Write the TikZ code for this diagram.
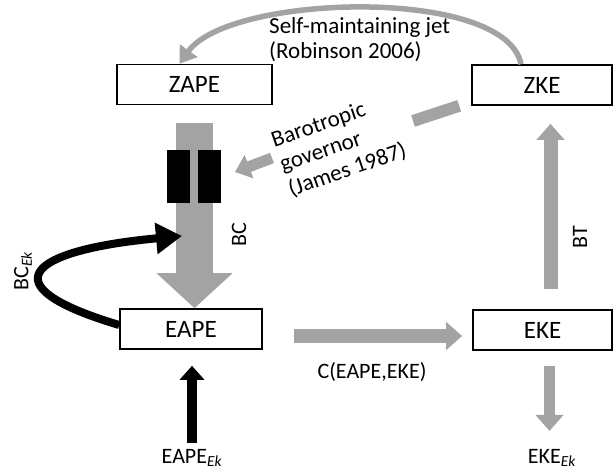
\documentclass[tikz,border=0pt]{standalone}
\usepackage{fontspec}
\setmainfont{Carlito}
\usetikzlibrary{arrows.meta}
\definecolor{arrowgray}{RGB}{163,163,163}
\tikzstyle{box} = [rectangle, draw, line width=1.6pt, minimum height=40pt, text centered, font=\fontsize{25}{28}\selectfont]
\tikzstyle{txt} = [font=\fontsize{22}{25}\selectfont, inner sep=0pt]
\tikzstyle{fatarrow} = [draw=arrowgray, line width=37pt, -{Triangle[width=74pt,length=35pt]}]
\tikzstyle{grayarrow} = [draw=arrowgray, line width=14pt, -{Triangle[width=27pt,length=16pt]}]
\tikzstyle{blackarrow} = [draw=black, line width=10pt, -{Triangle[width=24pt,length=14pt]}]
\tikzstyle{block} = [rectangle, fill=black, minimum width=23pt, minimum height=53pt, inner sep=0pt]

\begin{document}
\begin{tikzpicture}[x=1pt, y=-1pt]
                 \useasboundingbox (0,0) rectangle (614,474);
                 \node [box, minimum width=155pt] at (194.5,84.5) (zape) {ZAPE};
                 \node [box, minimum width=140pt] at (542,85) (zke) {ZKE};
                 \node [box, minimum width=142pt] at (191,329) (eape) {EAPE};
                 \node [box, minimum width=139pt] at (542.5,330) (eke) {EKE};
                 \node [txt] at (192,458) (eapeek) {EAPE\textsubscript{\textit{Ek}}};
                 \node [txt] at (552,458) (ekeek) {EKE\textsubscript{\textit{Ek}}};
                 \node [txt] at (372,372) (conv) {C(EAPE,EKE)};
                 \node [txt, rotate=90] at (239,235) (bc) {BC};
                 \node [txt, rotate=90] at (23,271) (bcek) {BC\textsubscript{\textit{Ek}}};
                 \node [txt, rotate=90] at (580,237) (bt) {BT};
                 \node [txt, font=\fontsize{23}{25}\selectfont, align=left, anchor=west] at (269,40) (jet) {Self-maintaining jet\\(Robinson 2006)};
                 \node [txt, font=\fontsize{23}{26}\selectfont, align=left, rotate=19] at (339,146) (gov) {Barotropic\\governor\\(James 1987)};
                 \coordinate (bctip) at (182,236);
                 \coordinate (govdash) at (413,121);
                 \coordinate (govtail) at (272,158);
                 \coordinate (govtip) at (235,172);
                 \draw [fatarrow, shorten <=18pt] (zape.south) -- (zape.south |- eape.north);
                 \node [block] at (178.5,176.5) (blockl) {};
                 \node [block] at (209.5,176.5) (blockr) {};
                 \draw [grayarrow, shorten <=31pt, shorten >=10pt] ([yshift=-7pt]eape.east) -- ([yshift=-7pt]eape.east -| eke.west);
                 \draw [grayarrow, shorten <=20pt, shorten >=18pt] ([xshift=8pt]eke.north) -- ([xshift=8pt]eke.north |- zke.south);
                 \draw [grayarrow, line width=11pt, shorten <=15pt, shorten >=18pt] ([xshift=7pt]eke.south) -- ([xshift=7pt]eke.south |- ekeek.north);
                 \draw [blackarrow, shorten <=6pt, shorten >=16pt] (eapeek.north) -- (eapeek.north |- eape.south);
                 \draw [draw=black, line width=8pt, -{Triangle[width=30pt,length=26pt]}] ([yshift=4pt]eape.west) .. controls (-15,285) and (30,250) .. (bctip);
                 \draw [draw=arrowgray, line width=5.5pt, -{Triangle[width=21pt,length=16pt]}] ([xshift=-21pt]zke.north) .. controls +(-15,-78) and +(50,-70) .. ([xshift=-15pt]zape.north);
                 \draw [draw=arrowgray, line width=12pt] ([xshift=-12pt]zke.south west) -- (govdash);
                 \draw [grayarrow, line width=11pt, -{Triangle[width=24pt,length=15pt]}] (govtail) -- (govtip);
                 \end{tikzpicture}
\end{document}
